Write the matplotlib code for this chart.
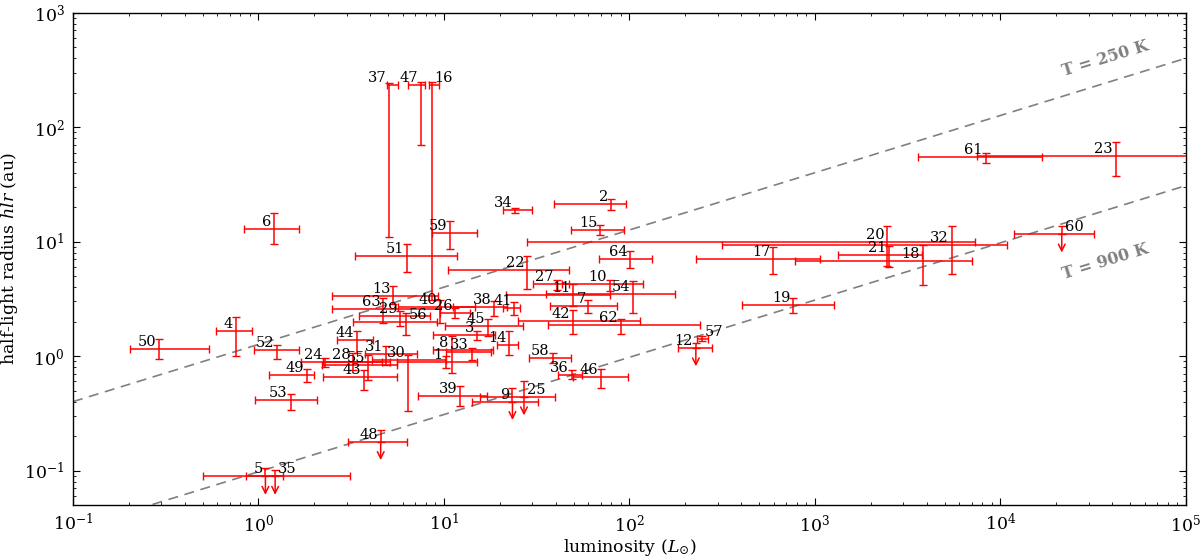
import numpy as np
import matplotlib
matplotlib.use('Agg')
import matplotlib.pyplot as plt

plt.rcParams.update({
    'font.family': 'serif',
    'font.serif': ['DejaVu Serif'],
    'mathtext.fontset': 'dejavuserif',
    'font.size': 12.5,
})

# ===================== DATA =====================
names = [str(i) for i in range(1, 65)]

lum = [10.2, 79.8, 15.0, 0.756, 1.09, 1.21, 60.0, 11.0, 23.4, 78.5,
       49.6, 228, 5.33, 22.5, 69.3, 8.58, 596, 3808, 764, 2455,
       2516, 28.2, 41800, 2.28, 27.0, 11.5, 40.5, 3.24, 5.79, 6.42,
       4.87, 5458, 14.1, 24.1, 1.23, 48.8, 5.07, 18.7, 12.2, 9.51,
       23.9, 49.4, 3.72, 3.38, 17.2, 70.0, 7.49, 4.56, 1.82, 0.292,
       6.30, 1.26, 1.49, 104.8, 3.91, 6.22, 245, 38.5, 10.8, 21400,
       8320, 89.7, 4.71, 100.6]
lum_lo = [5.56, 39.3, 8.75, 0.59, 0.50, 0.832, 37.3, 8.73, 14.1, 43.1,
          21.6, 182, 2.50, 19.2, 48.2, 8.33, 227, 780, 405, 28.2,
          1335, 10.5, 7440, 1.69, 15.6, 9.51, 30.3, 2.24, 3.49, 4.08,
          3.75, 314, 10.3, 20.9, 0.856, 41.3, 4.91, 11.2, 7.27, 5.67,
          20.8, 25.2, 2.24, 2.64, 10.1, 49.4, 6.37, 3.05, 1.135, 0.203,
          3.31, 0.946, 0.961, 35.5, 2.19, 3.24, 230, 28.8, 8.58, 11800,
          3580, 36.2, 2.50, 68.7]
lum_hi = [15.0, 95.7, 18.8, 0.926, 1.36, 1.65, 86.0, 18.4, 32.1, 118,
          78.5, 279, 9.32, 25.2, 93.3, 9.43, 1064, 7047, 1266, 7310,
          3760, 47.4, 2.0e5, 5.12, 39.7, 13.8, 47.4, 4.62, 8.4, 10.3,
          7.13, 10800, 18.0, 29.9, 3.11, 55.3, 5.67, 21.8, 17.0, 14.7,
          25.7, 114, 5.56, 4.13, 26.8, 98.5, 7.90, 6.34, 1.99, 0.541,
          11.7, 1.65, 2.06, 177, 5.56, 9.13, 266, 48.4, 15.1, 31900,
          16700, 240, 9.51, 132.7]

hlr = [0.88, 21.4, 1.54, 1.65, 0.089, 12.9, 2.72, 1.12, 0.401, 4.27,
       3.41, 1.18, 3.33, 1.26, 12.7, 234, 7.09, 6.81, 2.81, 9.98,
       7.69, 5.69, 56.2, 0.886, 0.44, 2.38, 4.27, 0.89, 2.23, 0.92,
       1.05, 9.4, 1.08, 18.9, 0.089, 0.68, 234, 2.69, 0.452, 2.69,
       2.65, 2.04, 0.658, 1.37, 1.82, 0.658, 234, 0.179, 0.68, 1.16,
       7.43, 1.12, 0.411, 3.49, 0.843, 1.97, 1.41, 0.964, 12.0, 11.65,
       54.7, 1.86, 2.58, 7.09]
hlr_lo = [0.78, 19.0, 1.39, 0.996, 0.089, 9.53, 2.38, 0.71, 0.401, 3.68,
          2.76, 1.18, 2.87, 1.03, 11.5, 3.11, 5.25, 4.21, 2.38, 6.07,
          5.96, 3.86, 37.6, 0.81, 0.44, 2.17, 3.80, 0.76, 1.82, 0.33,
          0.843, 5.22, 0.93, 17.8, 0.089, 0.632, 10.9, 2.23, 0.365, 1.95,
          2.30, 1.57, 0.51, 1.07, 1.49, 0.528, 69.7, 0.179, 0.599, 0.946,
          5.46, 0.946, 0.341, 2.38, 0.62, 1.54, 1.35, 0.872, 8.62, 11.65,
          48.5, 1.57, 1.95, 5.88]
hlr_hi = [1.0, 23.5, 1.67, 2.18, 0.106, 17.8, 3.07, 1.49, 0.528, 4.59,
          4.29, 1.30, 4.12, 1.65, 14.0, 248, 8.97, 9.4, 3.22, 13.8,
          9.2, 7.43, 74.9, 0.97, 0.603, 2.65, 4.65, 1.07, 2.46, 1.03,
          1.22, 13.6, 1.18, 19.8, 0.101, 0.752, 245, 3.01, 0.545, 3.11,
          2.99, 2.55, 0.76, 1.65, 2.11, 0.773, 248, 0.228, 0.773, 1.41,
          9.59, 1.26, 0.471, 4.50, 1.03, 2.38, 1.49, 1.07, 15.0, 13.8,
          60.0, 2.11, 3.22, 8.21]

# sources whose radius is only an upper limit
upper_limits = ['5', '9', '12', '25', '35', '48', '60']
# labels written to the right of the point
right_labels = ['16', '25', '35', '56', '57', '60']

# constant-temperature lines, hlr = k * sqrt(L)
line_temps = ['T = 250 K', 'T = 900 K']
line_coef = [1.265, 0.0976]

lum = np.array(lum); lum_lo = np.array(lum_lo); lum_hi = np.array(lum_hi)
hlr = np.array(hlr); hlr_lo = np.array(hlr_lo); hlr_hi = np.array(hlr_hi)
is_up = np.isin(names, upper_limits)

# ===================== PLOT =====================
fig = plt.figure(figsize=(12, 5.59), dpi=100)
ax = fig.add_axes([0.0608, 0.0966, 0.9275, 0.8807])
ax.set_xscale('log')
ax.set_yscale('log')

lgrid = np.logspace(-1, 5, 100)
for k in line_coef:
    ax.plot(lgrid, k * np.sqrt(lgrid), color='gray', ls='--', dashes=(6, 4), lw=1.2, zorder=1)

ax.errorbar(lum, hlr,
            xerr=[lum - lum_lo, lum_hi - lum],
            yerr=[hlr - hlr_lo, hlr_hi - hlr],
            fmt='none', ecolor='red', elinewidth=1.1, capsize=3, capthick=1, zorder=3)

for i in np.where(is_up)[0]:
    ax.annotate('', xy=(lum[i], hlr[i] / 1.45), xytext=(lum[i], hlr[i]),
                arrowprops=dict(arrowstyle='->', color='red', lw=1.1,
                                shrinkA=0, shrinkB=0, mutation_scale=12), zorder=3)

for i, n in enumerate(names):
    if n in right_labels:
        ha, dx = 'left', 2
    else:
        ha, dx = 'right', -2
    ax.annotate(n, (lum[i], hlr[i]), xytext=(dx, 0), textcoords='offset points',
                ha=ha, va='bottom', fontsize=10.5, zorder=4)

ax.text(3.66e4, 394, line_temps[0], rotation=17, color='gray', fontweight='bold',
        ha='center', va='center', fontsize=11.5)
ax.text(3.66e4, 6.68, line_temps[1], rotation=17, color='gray', fontweight='bold',
        ha='center', va='center', fontsize=11.5)

ax.set_xlim(0.1, 1e5)
ax.set_ylim(0.05, 1000)
ax.tick_params(which='both', direction='in', top=True, right=True, labelsize=12.5)
ax.tick_params(which='major', length=5, width=0.8, pad=6)
ax.tick_params(which='minor', length=2.5, width=0.6)
for sp in ax.spines.values():
    sp.set_linewidth(1.0)

ax.set_xlabel(r'luminosity ($L_{\odot}$)', fontsize=12.5, labelpad=1)
ax.set_ylabel(r'half-light radius $hlr$ (au)', fontsize=12.5, labelpad=3)

fig.savefig('out.png', dpi=100)
